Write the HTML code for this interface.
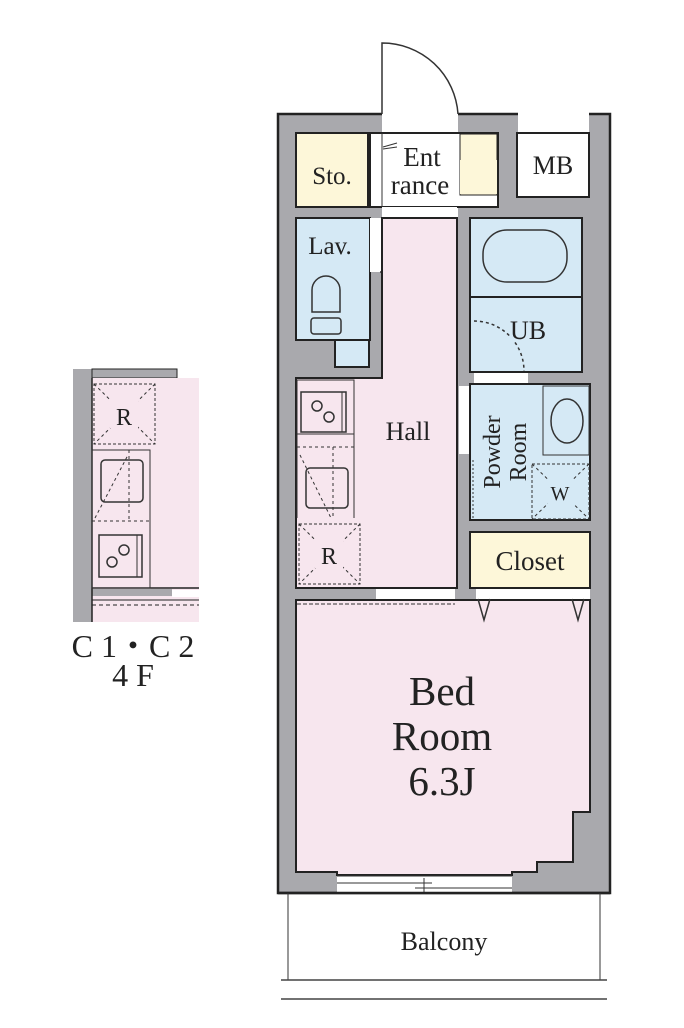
<!DOCTYPE html>
<html><head><meta charset="utf-8"><style>
html,body{margin:0;padding:0;background:#fff;width:684px;height:1028px;overflow:hidden}
svg{display:block}
text{font-family:"Liberation Serif",serif;fill:#222}
</style></head><body>
<svg width="684" height="1028" viewBox="0 0 684 1028" xmlns="http://www.w3.org/2000/svg">
<!-- left partial plan -->
<rect x="73" y="369" width="19" height="253" fill="#a9a9ad"/>
<rect x="92" y="369" width="85" height="9" fill="#a9a9ad" stroke="#222" stroke-width="1"/>
<rect x="92" y="378" width="107" height="244" fill="#f7e6ee"/>
<rect x="92" y="589" width="80" height="7" fill="#a9a9ad"/>
<line x1="92" y1="588" x2="199" y2="588" stroke="#222" stroke-width="1.5"/>
<rect x="172" y="590" width="27" height="7" fill="#fff"/>
<line x1="92" y1="600" x2="199" y2="600" stroke="#222" stroke-width="1"/>
<line x1="92" y1="605" x2="199" y2="605" stroke="#222" stroke-width="1" stroke-dasharray="4,3"/>
<line x1="92" y1="378" x2="92" y2="622" stroke="#222" stroke-width="1.5"/>
<rect x="94" y="384" width="61" height="60" fill="none" stroke="#333" stroke-dasharray="3,2"/>
<path d="M94 384L155 444M155 384L94 444" stroke="#333" stroke-dasharray="3,3" fill="none"/>
<rect x="110" y="400" width="28" height="28" fill="#f7e6ee"/>
<text x="124" y="425" font-size="24" text-anchor="middle">R</text>
<rect x="92" y="450" width="58" height="138" fill="none" stroke="#333"/>
<rect x="101" y="460" width="42" height="42" rx="4" fill="none" stroke="#333" stroke-width="1.5"/>
<path d="M92 521L150 521M129 450L129 521M95 518L128 455" stroke="#333" stroke-dasharray="3,3" fill="none"/>
<rect x="99" y="535" width="43" height="42" fill="none" stroke="#333" stroke-width="1.5"/>
<line x1="137" y1="535" x2="137" y2="577" stroke="#333"/>
<circle cx="112" cy="562" r="5" fill="none" stroke="#333" stroke-width="1.5"/>
<circle cx="124" cy="550" r="5" fill="none" stroke="#333" stroke-width="1.5"/>
<text x="133" y="657" font-size="32" text-anchor="middle">C 1・C 2</text>
<text x="133" y="686" font-size="32" text-anchor="middle">4 F</text>

<!-- main plan walls -->
<rect x="278" y="114" width="332" height="779" fill="#a9a9ad" stroke="#222" stroke-width="2.5"/>
<rect x="382" y="112" width="76" height="106" fill="#fff"/>
<path d="M382 114L382 43A76 76 0 0 1 458 114" fill="none" stroke="#333" stroke-width="1.5"/>
<rect x="518" y="112" width="71" height="21" fill="#fff"/>
<rect x="517" y="133" width="72" height="64" fill="#fff" stroke="#222" stroke-width="2"/>
<text x="553" y="174" font-size="26" text-anchor="middle">MB</text>
<rect x="296" y="133" width="72" height="74" fill="#fdf7d9" stroke="#222" stroke-width="2"/>
<text x="332" y="184" font-size="25" text-anchor="middle">Sto.</text>
<rect x="370" y="141" width="12" height="52" fill="#fff"/>
<rect x="370" y="133" width="128" height="74" fill="#fff" stroke="#222" stroke-width="2"/>
<rect x="460" y="134" width="37" height="61" fill="#fdf7d9" stroke="#222" stroke-width="1"/>
<line x1="382" y1="133" x2="382" y2="207" stroke="#333" stroke-width="1"/>
<path d="M383 147L397 143M383 149L397 147" stroke="#333" fill="none"/>
<text x="422" y="166" font-size="27" text-anchor="middle">Ent</text>
<text x="420" y="194" font-size="27" text-anchor="middle">rance</text>
<rect x="460" y="160" width="37" height="34" fill="#fdf7d9"/>
<rect x="382" y="207" width="75" height="11" fill="#fff"/>
<rect x="296" y="218" width="74" height="122" fill="#d5e9f5" stroke="#222" stroke-width="2"/>
<rect x="335" y="340" width="34" height="27" fill="#d5e9f5" stroke="#222" stroke-width="2"/>
<rect x="370" y="218" width="11" height="54" fill="#fff"/>
<path d="M380 272A52 52 0 0 0 432 220" fill="none" stroke="#333" stroke-width="1.5"/>
<text x="330" y="254" font-size="25" text-anchor="middle">Lav.</text>
<path d="M312 312L312 290A14 14 0 0 1 340 290L340 312Z" fill="none" stroke="#333" stroke-width="1.5"/>
<rect x="311" y="318" width="30" height="16" rx="3" fill="none" stroke="#333" stroke-width="1.5"/>
<path d="M382 218L457 218L457 588L296 588L296 378L382 378Z" fill="#f7e6ee" stroke="#222" stroke-width="2"/>
<text x="408" y="440" font-size="26" text-anchor="middle">Hall</text>
<rect x="297" y="380" width="57" height="54" fill="none" stroke="#333"/>
<rect x="301" y="392" width="45" height="40" fill="none" stroke="#333" stroke-width="1.5"/>
<line x1="342" y1="392" x2="342" y2="432" stroke="#333"/>
<circle cx="317" cy="406" r="5" fill="none" stroke="#333" stroke-width="1.5"/>
<circle cx="329" cy="417" r="5" fill="none" stroke="#333" stroke-width="1.5"/>
<path d="M297 447L354 447M333 447L333 518M300 455L331 518" stroke="#333" stroke-dasharray="3,3" fill="none"/>
<rect x="306" y="468" width="42" height="40" rx="4" fill="none" stroke="#333" stroke-width="1.5"/>
<line x1="297" y1="434" x2="297" y2="518" stroke="#333"/>
<line x1="354" y1="434" x2="354" y2="518" stroke="#333"/>
<rect x="299" y="524" width="61" height="60" fill="none" stroke="#333" stroke-dasharray="3,2"/>
<path d="M299 524L360 584M360 524L299 584" stroke="#333" stroke-dasharray="3,3" fill="none"/>
<rect x="315" y="538" width="28" height="30" fill="#f7e6ee"/>
<text x="329" y="564" font-size="24" text-anchor="middle">R</text>
<rect x="470" y="218" width="112" height="154" fill="#d5e9f5" stroke="#222" stroke-width="2"/>
<line x1="470" y1="297" x2="582" y2="297" stroke="#222" stroke-width="2"/>
<rect x="483" y="230" width="84" height="52" rx="24" fill="none" stroke="#333" stroke-width="1.5"/>
<path d="M474 321A50 50 0 0 1 524 371" fill="none" stroke="#333" stroke-width="1.5" stroke-dasharray="3,3"/>
<rect x="510" y="316" width="36" height="26" fill="#d5e9f5"/>
<text x="528" y="339" font-size="26" text-anchor="middle">UB</text>
<rect x="474" y="373" width="54" height="11" fill="#fff"/>
<rect x="470" y="384" width="120" height="136" fill="#d5e9f5" stroke="#222" stroke-width="2"/>
<rect x="459" y="386" width="10" height="68" fill="#fff"/>
<rect x="543" y="386" width="46" height="69" fill="none" stroke="#333"/>
<ellipse cx="567" cy="421" rx="16" ry="22" fill="none" stroke="#333" stroke-width="1.5"/>
<rect x="532" y="464" width="57" height="55" fill="none" stroke="#333" stroke-dasharray="3,2"/>
<path d="M532 464L589 519M589 464L532 519" stroke="#333" stroke-dasharray="3,3" fill="none"/>
<rect x="548" y="480" width="26" height="24" fill="#d5e9f5"/>
<text x="560" y="500" font-size="20" text-anchor="middle">W</text>
<line x1="473" y1="460" x2="473" y2="518" stroke="#333" stroke-dasharray="2,2"/>
<text transform="translate(500,452) rotate(-90)" font-size="24" text-anchor="middle"><tspan x="0" y="0">Powder</tspan><tspan x="0" y="26">Room</tspan></text>
<rect x="470" y="532" width="120" height="56" fill="#fdf7d9" stroke="#222" stroke-width="2"/>
<text x="530" y="570" font-size="27" text-anchor="middle">Closet</text>
<path d="M296 600L590 600L590 812L573 812L573 862L537 862L537 872L512 872L512 875L337 875L337 872L296 872Z" fill="#f7e6ee" stroke="#222" stroke-width="2"/>
<rect x="376" y="589" width="79" height="10" fill="#fff"/>
<rect x="476" y="589" width="114" height="10" fill="#fff"/>
<line x1="297" y1="604" x2="455" y2="604" stroke="#333" stroke-dasharray="4,2"/>
<path d="M478 599L484 620L490 599M572 599L578 620L584 599" fill="none" stroke="#333" stroke-width="1.5"/>
<text x="442" y="705" font-size="41" text-anchor="middle">Bed</text>
<text x="442" y="750" font-size="41" text-anchor="middle">Room</text>
<text x="442" y="795" font-size="41" text-anchor="middle">6.3J</text>
<rect x="337" y="876" width="175" height="16" fill="#fff"/>
<path d="M337 883L432 883M415 888L512 888M424 878L424 892M337 876L512 876" stroke="#333" fill="none"/>
<line x1="278" y1="893" x2="610" y2="893" stroke="#222" stroke-width="2.5"/>
<path d="M288 893L288 980M600 893L600 980" stroke="#333" fill="none"/>
<path d="M281 980L607 980M281 999L607 999" stroke="#444" stroke-width="1.5" fill="none"/>
<text x="444" y="950" font-size="26" text-anchor="middle">Balcony</text>
</svg>
</body></html>
